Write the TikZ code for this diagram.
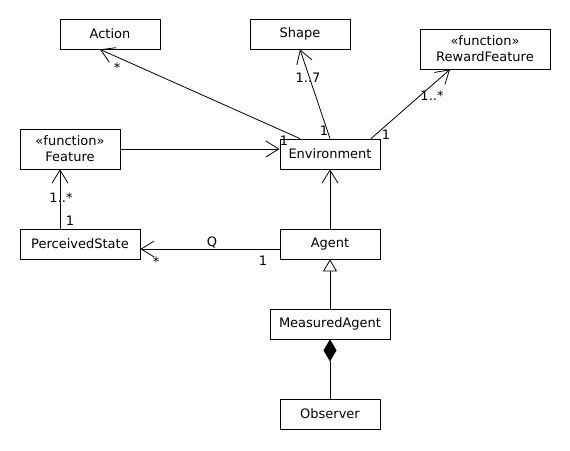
\documentclass[tikz,border=0pt]{standalone}
\usepackage{fontspec}
\setmainfont{DejaVu Sans}
\usetikzlibrary{arrows.meta}
\tikzset{
	cls/.style={draw, line width=0.8pt, minimum width=100pt, minimum height=30pt, inner sep=0pt, align=center, font=\fontsize{13}{16}\selectfont},
	lbl/.style={inner sep=0pt, font=\fontsize{13}{16}\selectfont},
	assoc/.style={line width=0.8pt, -{Straight Barb[length=13pt,width=16pt]}},
	gen/.style={line width=0.8pt, -{Triangle[open,length=12pt,width=14pt]}},
	comp/.style={line width=0.8pt, -{Diamond[length=22pt,width=13pt]}}
}
\begin{document}
\begin{tikzpicture}[x=1pt,y=-1pt]
		\useasboundingbox (0,0) rectangle (570,450);
		% classes
		\node[cls] (act) at (110,34) {Action};
		\node[cls] (shp) at (300,34) {Shape};
		\node[cls, minimum width=130pt, minimum height=40pt] (rew) at (485,49) {«function»\\RewardFeature};
		\node[cls, minimum height=40pt] (feat) at (70,149) {«function»\\Feature};
		\node[cls] (env) at (330,154) {Environment};
		\node[cls, minimum width=120pt] (ps) at (80,244) {PerceivedState};
		\node[cls] (agt) at (330,244) {Agent};
		\node[cls, minimum width=120pt] (meas) at (330,324) {MeasuredAgent};
		\node[cls] (obs) at (330,414) {Observer};
		% associations
		\draw[assoc] ([xshift=-30pt]env.north) -- ([xshift=-10pt]act.south);
		\draw[assoc] (env.north) -- (shp.south);
		\draw[assoc] ([xshift=41pt]env.north) -- ([xshift=-35pt]rew.south);
		\draw[assoc] (feat.east) -- (feat.east -| env.west);
		\draw[assoc] ([xshift=-20pt]ps.north) -- ([xshift=-10pt]feat.south);
		\draw[assoc] (agt.north) -- (env.south);
		\draw[assoc] ([yshift=-5pt]agt.west) -- ([yshift=-5pt]ps.east);
		\draw[gen] (meas.north) -- (agt.south);
		\draw[comp] (obs.north) -- (meas.south);
		% multiplicities
		\node[lbl] (m1) at (117,68) {*};
		\node[lbl] (m2) at (284,141) {1};
		\node[lbl] (m3) at (308,78) {1..7};
		\node[lbl] (m4) at (324,131) {1};
		\node[lbl] (m5) at (432,96) {1..*};
		\node[lbl] (m6) at (386,135) {1};
		\node[lbl] (m7) at (61,198) {1..*};
		\node[lbl] (m8) at (70,221) {1};
		\node[lbl] (q) at (212,243) {Q};
		\node[lbl] (m9) at (263,261) {1};
		\node[lbl] (m10) at (156,262) {*};
	\end{tikzpicture}
\end{document}
